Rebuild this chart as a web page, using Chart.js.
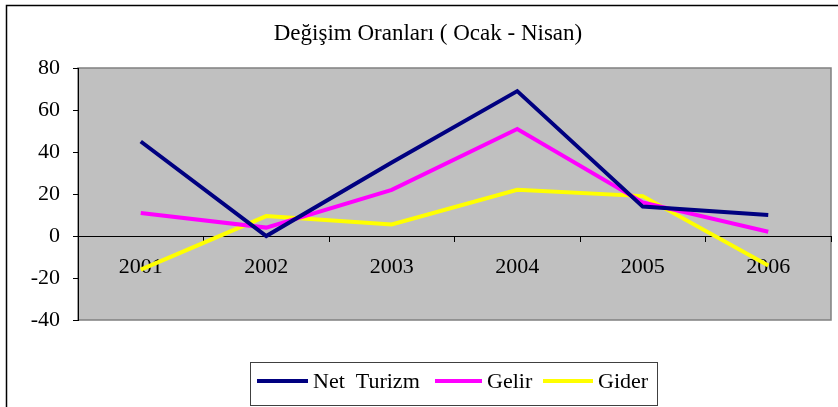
<!DOCTYPE html>
<html>
<head>
<meta charset="utf-8">
<script src="https://cdn.jsdelivr.net/npm/chart.js@4"></script>
<style>
  html, body { margin: 0; padding: 0; background: #fff; }
  #wrap { width: 838px; height: 407px; }
</style>
</head>
<body>
<div id="wrap"><canvas id="chart" width="838" height="407"></canvas></div>
<script>
// Veriler (Ocak - Nisan değişim oranları)
const years = ['2001', '2002', '2003', '2004', '2005', '2006'];
const netTurizm = [45, 0, 35, 69, 14, 10];
const gelir = [11, 4, 22, 51, 16, 2];
const gider = [-16, 9.5, 5.5, 22, 19, -14];

const titleText = 'Değişim Oranları ( Ocak - Nisan)';
const serif = '"Liberation Serif", "Times New Roman", serif';

// Arka plan, çerçeve, başlık ve lejant
const excelLook = {
  id: 'excelLook',
  beforeDraw(chart) {
    const { ctx, chartArea: a } = chart;
    ctx.save();
    ctx.fillStyle = '#fff';
    ctx.fillRect(0, 0, chart.width, chart.height);
    ctx.strokeStyle = '#000';
    ctx.lineWidth = 1.5;
    ctx.strokeRect(6.5, 5.5, chart.width + 10, chart.height + 10);
    ctx.fillStyle = '#c0c0c0';
    ctx.fillRect(a.left, a.top, a.right - a.left, a.bottom - a.top);
    ctx.strokeStyle = '#808080';
    ctx.lineWidth = 1.5;
    ctx.strokeRect(a.left, a.top, a.right - a.left, a.bottom - a.top);
    ctx.restore();
  },
  afterDraw(chart) {
    const { ctx } = chart;
    ctx.save();
    ctx.fillStyle = '#000';
    ctx.font = '23px ' + serif;
    ctx.textAlign = 'center';
    ctx.textBaseline = 'middle';
    ctx.fillText(titleText, 428, 34);

    // lejant kutusu
    ctx.fillStyle = '#fff';
    ctx.fillRect(250, 362, 408, 44);
    ctx.strokeStyle = '#404040';
    ctx.lineWidth = 1;
    ctx.strokeRect(250.5, 362.5, 407, 43);
    const slots = [[257, 308, 313], [435, 482, 487], [543, 593, 598]];
    ctx.textAlign = 'left';
    ctx.font = '22px ' + serif;
    chart.data.datasets.forEach((ds, i) => {
      const [x1, x2, tx] = slots[i];
      ctx.strokeStyle = ds.borderColor;
      ctx.lineWidth = 4;
      ctx.beginPath();
      ctx.moveTo(x1, 381);
      ctx.lineTo(x2, 381);
      ctx.stroke();
      ctx.fillStyle = '#000';
      ctx.fillText(ds.label, tx, 382);
    });
    ctx.restore();
  }
};

const lineDs = (label, data, color) => ({
  label, data,
  borderColor: color,
  backgroundColor: color,
  borderWidth: 4,
  pointRadius: 0,
  tension: 0,
  fill: false
});

new Chart(document.getElementById('chart'), {
  type: 'line',
  data: {
    labels: years,
    datasets: [
      lineDs('Net  Turizm', netTurizm, '#000080'),
      lineDs('Gelir', gelir, '#ff00ff'),
      lineDs('Gider', gider, '#ffff00')
    ]
  },
  options: {
    responsive: false,
    animation: false,
    layout: { padding: { left: 0, top: 68, right: 7, bottom: 87 } },
    plugins: {
      legend: { display: false },
      title: { display: false },
      tooltip: { enabled: false }
    },
    scales: {
      x: {
        position: { y: 0 },
        offset: true,
        grid: {
          offset: true,
          drawOnChartArea: false,
          tickLength: 5,
          color: '#000'
        },
        border: { color: '#000', width: 1 },
        ticks: {
          color: '#000',
          font: { family: serif, size: 22 },
          padding: 13,
          maxRotation: 0
        }
      },
      y: {
        min: -40,
        max: 80,
        afterFit(scale) { scale.width = 78; },
        grid: {
          drawOnChartArea: false,
          tickLength: 5,
          color: '#000'
        },
        border: { color: '#000', width: 1 },
        ticks: {
          stepSize: 20,
          color: '#000',
          font: { family: serif, size: 22 },
          padding: 13
        }
      }
    }
  },
  plugins: [excelLook]
});
</script>
</body>
</html>
